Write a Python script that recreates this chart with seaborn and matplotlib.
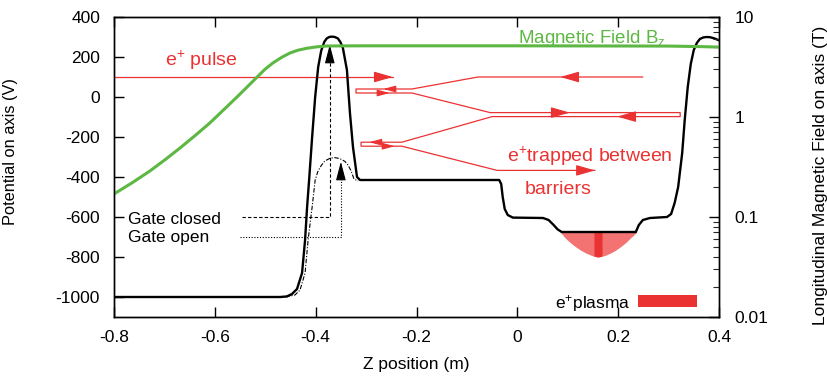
import matplotlib
matplotlib.use("Agg")
import matplotlib.pyplot as plt
import numpy as np
import pandas as pd
import seaborn as sns
from matplotlib.patches import Rectangle

# ---------------- data ----------------
# On-axis potential, gate closed (V) vs z (m)
pot_z = [-0.800, -0.470, -0.457, -0.447, -0.437, -0.427, -0.421, -0.417, -0.413,
         -0.407, -0.401, -0.395, -0.389, -0.383, -0.378, -0.373, -0.368, -0.362,
         -0.356, -0.351, -0.346, -0.338, -0.332, -0.326, -0.318, -0.312,
         -0.036, -0.032, -0.029, -0.025, -0.019, -0.009, 0.051, 0.062, 0.072,
         0.080, 0.088, 0.235, 0.241, 0.249, 0.263, 0.297, 0.305, 0.312, 0.319,
         0.327, 0.332, 0.338, 0.344, 0.350, 0.356, 0.362, 0.369, 0.376, 0.382,
         0.388, 0.394, 0.400]
pot_v = [-1000, -1000, -997, -985, -960, -880, -715, -550, -415,
         -200, 0, 150, 232, 275, 293, 300, 302, 300,
         293, 275, 245, 135, -80, -250, -400, -415,
         -415, -435, -500, -560, -590, -603, -605, -615, -640,
         -662, -675, -675, -640, -615, -605, -600, -585, -530, -450,
         -280, -115, 50, 165, 235, 270, 290, 298, 300, 299,
         295, 290, 283]

# On-axis potential, gate open
gate_open_z = [-0.460, -0.441, -0.431, -0.421, -0.415, -0.407, -0.401, -0.396,
               -0.391, -0.382, -0.372, -0.362, -0.352, -0.342, -0.336, -0.330,
               -0.324, -0.316]
gate_open_v = [-1000, -990, -965, -880, -715, -550, -415, -375,
               -350, -320, -307, -303, -308, -322, -340, -368,
               -410, -420]

# Longitudinal magnetic field (T)
bfield_z = [-0.800, -0.764, -0.729, -0.699, -0.669, -0.639, -0.610, -0.584,
            -0.556, -0.536, -0.516, -0.501, -0.485, -0.467, -0.451, -0.435,
            -0.417, -0.397, -0.378, -0.350, -0.300, 0.000, 0.300, 0.370, 0.400]
bfield_t = [0.170, 0.220, 0.288, 0.373, 0.490, 0.653, 0.871, 1.161,
            1.585, 1.995, 2.512, 2.985, 3.467, 3.963, 4.365, 4.656,
            4.875, 5.035, 5.129, 5.14, 5.15, 5.15, 5.12, 5.05, 5.00]

# Positron plasma profile
plasma_z = [0.085, 0.095, 0.105, 0.115, 0.125, 0.135, 0.145, 0.152, 0.160,
            0.168, 0.175, 0.185, 0.195, 0.205, 0.215, 0.225, 0.231, 0.237]
plasma_v = [-675, -705, -728, -748, -765, -779, -790, -796, -800,
            -796, -791, -780, -766, -748, -728, -703, -690, -675]
plasma_top = -675
core_z = [0.152, 0.160, 0.168]
core_v = [-796, -800, -796]

# Red positron trajectory (z, V)
traj_in_z = [-0.800, -0.247]
traj_in_v = [100, 100]
traj_z = [0.249, -0.078, -0.209, -0.320, -0.320, -0.209, -0.054, 0.323, 0.323,
          -0.050, -0.229, -0.310, -0.310, -0.229, -0.040, 0.154]
traj_v = [100, 100, 40, 40, 20, 20, -78, -78, -98,
          -98, -226, -226, -246, -246, -367, -367]
# arrow heads on the trajectory: (tip z, tip V, direction)
big_heads = [(-0.247, 100, 1), (0.085, 100, -1), (0.104, -78, 1),
             (0.198, -98, -1), (0.154, -367, 1)]
small_heads = [(-0.266, 40, -1), (-0.253, 20, 1), (-0.294, -226, -1),
               (-0.243, -246, 1)]

# gate arrows
gate_closed_z = [-0.546, -0.372, -0.372]
gate_closed_v = [-602, -602, 200]
gate_closed_tip = (-0.372, 262)
gate_open_line_z = [-0.550, -0.350, -0.350]
gate_open_line_v = [-701, -701, -360]
gate_open_tip = (-0.350, -323)

x_ticks = [-0.8, -0.6, -0.4, -0.2, 0.0, 0.2, 0.4]
x_labels = ["-0.8", "-0.6", "-0.4", "-0.2", "0", "0.2", "0.4"]
y_ticks = [400, 200, 0, -200, -400, -600, -800, -1000]
y_labels = ["400", "200", "0", "-200", "-400", "-600", "-800", "-1000"]
b_ticks = [0.01, 0.1, 1, 10]
b_labels = ["0.01", "0.1", "1", "10"]

# ---------------- style ----------------
sns.set_theme(style="ticks")
plt.rcParams["font.family"] = ["Liberation Sans", "DejaVu Sans"]
plt.rcParams["mathtext.fontset"] = "custom"
plt.rcParams["mathtext.rm"] = "Liberation Sans"
plt.rcParams["mathtext.it"] = "Liberation Sans:italic"
plt.rcParams["axes.unicode_minus"] = False

RED = "#eb3232"
GREEN = "#5cb843"
LIGHTRED = "#f37373"
FS = 12.5

fig = plt.figure(figsize=(8.27, 3.8), dpi=100)
ax = fig.add_axes([114 / 827, 63 / 380, 605 / 827, 300 / 380])
ax2 = ax.twinx()

pot_df = pd.DataFrame({"z": pot_z, "V": pot_v})
open_df = pd.DataFrame({"z": gate_open_z, "V": gate_open_v})
b_df = pd.DataFrame({"z": bfield_z, "B": bfield_t})

# plasma
ax.fill_between(plasma_z, plasma_v, plasma_top, color=LIGHTRED, lw=0, zorder=2)
ax.fill_between(core_z, core_v, plasma_top, color=RED, lw=0, zorder=2)

sns.lineplot(data=pot_df, x="z", y="V", ax=ax, color="black", lw=1.7,
             sort=False, estimator=None, zorder=4)
sns.lineplot(data=open_df, x="z", y="V", ax=ax, color="black", lw=0.8,
             sort=False, estimator=None, zorder=3, linestyle=(0, (4, 1.5, 1, 1.5)))

# trajectory
ax.plot(traj_in_z, traj_in_v, color=RED, lw=0.9, zorder=3)
ax.plot(traj_z, traj_v, color=RED, lw=0.9, zorder=3)
for z, v, d in big_heads:
    ax.annotate("", xy=(z, v), xytext=(-12 * d, 0), textcoords="offset points",
                arrowprops=dict(arrowstyle="-|>,head_length=1.15,head_width=0.33",
                                color=RED, lw=0.9, shrinkA=0, shrinkB=0,
                                mutation_scale=10), zorder=3)
for z, v, d in small_heads:
    ax.annotate("", xy=(z, v), xytext=(-8 * d, 0), textcoords="offset points",
                arrowprops=dict(arrowstyle="-|>,head_length=0.75,head_width=0.2",
                                color=RED, lw=0.8, shrinkA=0, shrinkB=0,
                                mutation_scale=10), zorder=3)

# gate arrows
ax.plot(gate_closed_z, gate_closed_v, color="black", lw=0.8, ls=(0, (3, 2)), zorder=3)
ax.plot(gate_open_line_z, gate_open_line_v, color="black", lw=0.8, ls=(0, (1, 1.5)), zorder=3)
for tip in (gate_closed_tip, gate_open_tip):
    ax.annotate("", xy=tip, xytext=(0, -12), textcoords="offset points",
                arrowprops=dict(arrowstyle="-|>,head_length=1.15,head_width=0.3",
                                color="black", lw=0.8, shrinkA=0, shrinkB=0,
                                mutation_scale=10), zorder=3)

# magnetic field
sns.lineplot(data=b_df, x="z", y="B", ax=ax2, color=GREEN, lw=2.2,
             sort=False, estimator=None)

# texts
ax.text(-0.699, 156, "e$^{+}$ pulse", color=RED, fontsize=14, ha="left", va="baseline")
ax.text(-0.021, -322, "e$^{+}$trapped between", color=RED, fontsize=14,
        ha="left", va="baseline")
ax.text(0.081, -487, "barriers", color=RED, fontsize=14, ha="center", va="baseline")
ax.text(0.001, 272, "Magnetic Field B$_{\\mathrm{z}}$", color=GREEN, fontsize=13.5,
        ha="left", va="baseline")
ax.text(-0.772, -636, "Gate closed", color="black", fontsize=FS, ha="left", va="baseline")
ax.text(-0.772, -726, "Gate open", color="black", fontsize=FS, ha="left", va="baseline")
ax.text(0.853, 0.03, "e$^{+}$plasma", color="black", fontsize=FS, ha="right",
        va="baseline", transform=ax.transAxes)
ax.add_patch(Rectangle((0.866, 0.033), 0.097, 0.04, transform=ax.transAxes,
                       color=RED, lw=0, zorder=5))

# axes
ax.set_xlim(-0.8, 0.4)
ax.set_ylim(-1100, 400)
ax.set_xticks(x_ticks)
ax.set_xticklabels(x_labels)
ax.set_yticks(y_ticks)
ax.set_yticklabels(y_labels)
ax.tick_params(axis="both", direction="in", length=7, width=1, labelsize=FS,
               colors="black")
ax.tick_params(axis="x", top=True, pad=9)
ax.tick_params(axis="y", right=False, pad=10)
ax.set_xlabel("Z position (m)", fontsize=FS, color="black")
ax.set_ylabel("Potential on axis (V)", fontsize=11.8, color="black")
ax.xaxis.set_label_coords(0.5, -0.135)
ax.yaxis.set_label_coords(-0.159, 0.55)

ax2.set_yscale("log")
ax2.set_ylim(0.01, 10)
ax2.set_yticks(b_ticks)
ax2.set_yticklabels(b_labels)
ax2.tick_params(axis="y", which="major", direction="in", length=7, width=1,
                labelsize=FS, pad=11, colors="black")
ax2.tick_params(axis="y", which="minor", direction="in", length=4, width=0.8)
ax2.set_ylabel("Longitudinal Magnetic Field on axis (T)", fontsize=FS, color="black")
ax2.yaxis.set_label_coords(1.155, 0.473)
ax2.set_xlabel("")

for a in (ax, ax2):
    for s in a.spines.values():
        s.set_visible(True)
        s.set_color("black")
        s.set_linewidth(1.0)

fig.savefig("out.png", dpi=100)
